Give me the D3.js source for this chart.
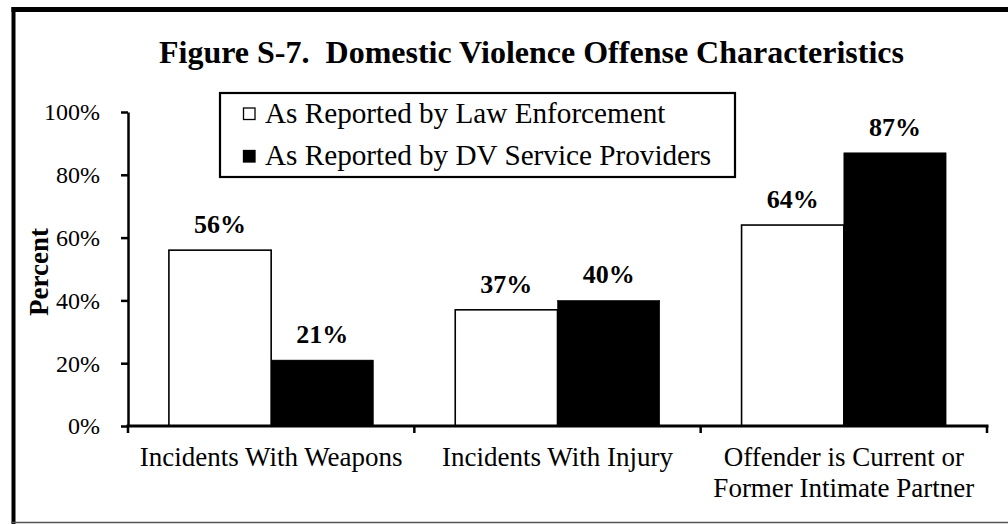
<!DOCTYPE html>
<html>
<head>
<meta charset="utf-8">
<script src="https://cdn.jsdelivr.net/npm/d3@7"></script>
<style>
  html, body { margin: 0; padding: 0; background: #fff; }
  svg { display: block; }
  text { font-family: "Liberation Serif", "Times New Roman", serif; fill: #000; white-space: pre; }
</style>
</head>
<body>
<svg id="chart" width="1008" height="524"></svg>
<script>
const title = "Figure S-7.  Domestic Violence Offense Characteristics";
const categories = ["Incidents With Weapons", "Incidents With Injury", "Offender is Current or\nFormer Intimate Partner"];
const seriesNames = ["As Reported by Law Enforcement", "As Reported by DV Service Providers"];
const lawEnforcement = [0.56, 0.37, 0.64];
const serviceProviders = [0.21, 0.40, 0.87];
const yTicks = [0, 0.2, 0.4, 0.6, 0.8, 1.0];
const yLabel = "Percent";

const svg = d3.select("#chart");
const W = 1008, H = 524;
svg.append("rect").attr("width", W).attr("height", H).attr("fill", "#fff");

// frame
svg.append("line").attr("x1", 13.5).attr("x2", 13.5).attr("y1", 7).attr("y2", H).attr("stroke", "#000").attr("stroke-width", 4);
svg.append("line").attr("x1", 11.5).attr("x2", W).attr("y1", 9.5).attr("y2", 9.5).attr("stroke", "#000").attr("stroke-width", 5);
svg.append("line").attr("x1", 11.5).attr("x2", W).attr("y1", 522.5).attr("y2", 522.5).attr("stroke", "#555").attr("stroke-width", 1.5);

const data = categories.map((c, i) => ({ cat: c, vals: [lawEnforcement[i], serviceProviders[i]] }));

const x0 = d3.scaleBand().domain(categories).range([128, 987]).paddingInner(0).paddingOuter(0);
const x1 = d3.scaleBand().domain(seriesNames).range([0, x0.bandwidth()]).paddingInner(0).paddingOuter(0.4);
const y = d3.scaleLinear().domain([0, 1]).range([426, 112]);
const fills = ["#fff", "#000"];

// title
svg.append("text").attr("x", 531.5).attr("y", 62.5).attr("text-anchor", "middle")
  .attr("xml:space", "preserve")
  .attr("font-size", 32).attr("font-weight", "bold").text(title);

// bars
const g = svg.append("g");
data.forEach(d => {
  d.vals.forEach((v, j) => {
    const bx = x0(d.cat) + x1(seriesNames[j]);
    g.append("rect")
      .attr("x", bx).attr("y", y(v))
      .attr("width", x1.bandwidth()).attr("height", y(0) - y(v))
      .attr("fill", fills[j])
      .attr("stroke", "#000").attr("stroke-width", j === 0 ? 1.6 : 0.5);
    g.append("text")
      .attr("x", bx + x1.bandwidth() / 2).attr("y", y(v) - 17)
      .attr("text-anchor", "middle").attr("font-size", 26).attr("font-weight", "bold")
      .text(Math.round(v * 100) + "%");
  });
});

// y axis
const yAxis = d3.axisLeft(y).tickValues(yTicks).tickFormat(d => Math.round(d * 100) + "%").tickSize(7).tickSizeOuter(0);
const ya = svg.append("g").attr("transform", "translate(128,0)").call(yAxis);
ya.attr("font-family", null).attr("font-size", null);
ya.select(".domain").attr("stroke", "#000").attr("stroke-width", 2.5);
ya.selectAll(".tick line").attr("stroke", "#000").attr("stroke-width", 2.5);
ya.selectAll(".tick text").attr("font-size", 24).attr("x", -28).attr("dy", "0.33em")
  .style("font-family", "'Liberation Serif', 'Times New Roman', serif").attr("fill", "#000");

// x axis
const xAxisLine = svg.append("g");
xAxisLine.append("line").attr("x1", 126.5).attr("x2", 988.5).attr("y1", y(0)).attr("y2", y(0))
  .attr("stroke", "#000").attr("stroke-width", 3);
const bounds = [x0.range()[0]].concat(categories.map(c => x0(c) + x0.bandwidth()));
bounds.forEach(bx => {
  xAxisLine.append("line").attr("x1", bx).attr("x2", bx).attr("y1", y(0)).attr("y2", y(0) + 7)
    .attr("stroke", "#000").attr("stroke-width", 2.5);
});
categories.forEach(c => {
  const lines = c.split("\n");
  const t = svg.append("text").attr("text-anchor", "middle").attr("font-size", 27);
  lines.forEach((ln, k) => {
    t.append("tspan").attr("x", x0(c) + x0.bandwidth() / 2).attr("y", 466 + k * 31).text(ln);
  });
});

// y label
svg.append("text").attr("transform", "translate(48,272) rotate(-90)")
  .attr("text-anchor", "middle").attr("font-size", 27).attr("font-weight", "bold").text(yLabel);

// legend
const lg = svg.append("g");
lg.append("rect").attr("x", 220).attr("y", 93).attr("width", 515).attr("height", 84)
  .attr("fill", "#fff").attr("stroke", "#000").attr("stroke-width", 2.2);
seriesNames.forEach((s, j) => {
  const base = 122.5 + j * 42.5;
  lg.append("rect").attr("x", 243.5).attr("y", base - 14.5).attr("width", 11.5).attr("height", 11.5)
    .attr("fill", fills[j]).attr("stroke", "#000").attr("stroke-width", 1.3);
  lg.append("text").attr("x", 265).attr("y", base).attr("font-size", 29.2).text(s);
});
</script>
</body>
</html>
